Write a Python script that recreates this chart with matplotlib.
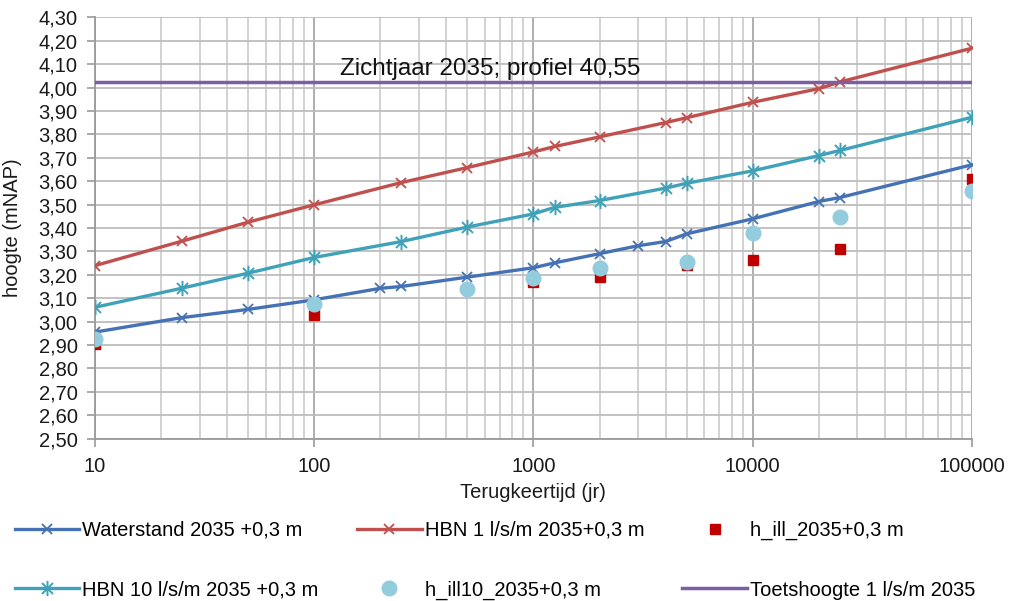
import matplotlib
matplotlib.use("Agg")
import matplotlib.pyplot as plt
from matplotlib.path import Path
from matplotlib.ticker import FixedLocator, FuncFormatter, LogLocator, NullFormatter

plt.rcParams['font.family'] = ['Liberation Sans', 'DejaVu Sans']

# ---- data ----
years_ws = [10, 25, 50, 100, 200, 250, 500, 1000, 1250, 2000, 3000, 4000, 5000, 10000, 20000, 25000, 100000]
waterstand = [2.955, 3.017, 3.052, 3.093, 3.142, 3.150, 3.190, 3.230, 3.251, 3.290, 3.324, 3.342, 3.375, 3.439, 3.513, 3.530, 3.670]

years_hbn = [10, 25, 50, 100, 250, 500, 1000, 1250, 2000, 4000, 5000, 10000, 20000, 25000, 100000]
hbn1 = [3.239, 3.344, 3.425, 3.499, 3.594, 3.658, 3.725, 3.748, 3.789, 3.850, 3.871, 3.937, 3.995, 4.024, 4.168]
hbn10 = [3.061, 3.143, 3.207, 3.274, 3.342, 3.404, 3.460, 3.488, 3.517, 3.570, 3.591, 3.644, 3.709, 3.731, 3.873]

years_ill = [10, 100, 1000, 2000, 5000, 10000, 25000, 100000]
h_ill = [2.906, 3.029, 3.167, 3.189, 3.240, 3.263, 3.312, 3.609]

years_ill10 = [10, 100, 500, 1000, 2000, 5000, 10000, 25000, 100000]
h_ill10 = [2.926, 3.076, 3.140, 3.186, 3.229, 3.254, 3.377, 3.446, 3.556]

years_toets = [10, 100000]
toets = [4.022, 4.022]

y_ticks = [2.5, 2.6, 2.7, 2.8, 2.9, 3.0, 3.1, 3.2, 3.3, 3.4, 3.5, 3.6, 3.7, 3.8, 3.9, 4.0, 4.1, 4.2, 4.3]
x_ticks = [10, 100, 1000, 10000, 100000]

labels = ["Waterstand 2035 +0,3 m", "HBN 1 l/s/m 2035+0,3 m", "h_ill_2035+0,3 m",
          "HBN 10 l/s/m 2035 +0,3 m", "h_ill10_2035+0,3 m", "Toetshoogte 1 l/s/m 2035"]
title = "Zichtjaar 2035; profiel 40,55"

# ---- style ----
c_ws = '#4472b4'
c_hbn1 = '#c0504d'
c_hbn10 = '#3fa2b8'
c_ill = '#c00000'
c_ill10 = '#93cddd'
c_toets = '#7b5ea3'

star = Path([(0, -1), (0, 1), (-0.72, -0.72), (0.72, 0.72), (-0.72, 0.72), (0.72, -0.72)],
            [Path.MOVETO, Path.LINETO, Path.MOVETO, Path.LINETO, Path.MOVETO, Path.LINETO])

W, H = 1012, 601
fig = plt.figure(figsize=(W / 100, H / 100), dpi=100)
ax = fig.add_axes([95 / W, 1 - 438.6 / H, (972 - 95) / W, (438.6 - 17.3) / H])

l_ws, = ax.plot(years_ws, waterstand, color=c_ws, lw=2.4, marker='x', ms=6.5, mew=1.3, zorder=3)
l_h1, = ax.plot(years_hbn, hbn1, color=c_hbn1, lw=2.4, marker='x', ms=6.5, mew=1.3, zorder=3)
l_ill, = ax.plot(years_ill, h_ill, ls='none', marker='s', ms=6.5, color=c_ill, zorder=4)
l_h10, = ax.plot(years_hbn, hbn10, color=c_hbn10, lw=2.4, marker=star, ms=11, mew=1.4, zorder=3)
l_ill10, = ax.plot(years_ill10, h_ill10, ls='none', marker='o', ms=10.5, color=c_ill10, zorder=5)
l_t, = ax.plot(years_toets, toets, color=c_toets, lw=2.5, zorder=3)

ax.set_xscale('log')
ax.set_xlim(10, 100000)
ax.set_ylim(2.5, 4.3)
ax.xaxis.set_major_locator(FixedLocator(x_ticks))
ax.xaxis.set_major_formatter(FuncFormatter(lambda v, p: f"{int(round(v))}"))
ax.xaxis.set_minor_locator(LogLocator(base=10, subs=[2, 3, 4, 5, 6, 7, 8, 9]))
ax.xaxis.set_minor_formatter(NullFormatter())
ax.yaxis.set_major_locator(FixedLocator(y_ticks))
ax.yaxis.set_major_formatter(FuncFormatter(lambda v, p: f"{v:.2f}".replace('.', ',')))

ax.grid(True, which='major', axis='y', color='#bdbdbd', lw=1.3, zorder=0)
ax.grid(True, which='major', axis='x', color='#a8a8a8', lw=1.3, zorder=0)
ax.grid(True, which='minor', axis='x', color='#cfcfcf', lw=1.3, zorder=0)
ax.set_axisbelow(True)

for s in ['top', 'right']:
    ax.spines[s].set_visible(False)
for s in ['left', 'bottom']:
    ax.spines[s].set_color('#9a9a9a')
    ax.spines[s].set_linewidth(1.3)

ax.tick_params(axis='both', which='major', direction='out', length=5.5, width=1.2,
               color='#9a9a9a', labelsize=14.5, labelcolor='#1a1a1a')
ax.tick_params(axis='x', which='major', pad=8)
ax.tick_params(axis='y', which='major', pad=7)
ax.tick_params(axis='x', which='minor', length=0)

fig.text(490 / W, 1 - 69 / H, title, fontsize=17.5, ha='center', va='center', color='#111111')
fig.text(533 / W, 1 - 492 / H, "Terugkeertijd (jr)", fontsize=14.5, ha='center', va='center', color='#1a1a1a')
fig.text(13 / W, 1 - 228 / H, "hoogte (mNAP)", fontsize=14.5, ha='center', va='center',
         rotation=90, color='#1a1a1a')

handles = [l_ws, l_h10, l_h1, l_ill10, l_ill, l_t]
hl = [labels[0], labels[3], labels[1], labels[4], labels[2], labels[5]]
leg = fig.legend(handles, hl, ncol=3, loc='upper left', bbox_to_anchor=(15 / W, 1 - 521 / H),
                 frameon=False, fontsize=14.5, handlelength=3.2, handletextpad=0.15,
                 columnspacing=1.9, labelspacing=2.0, numpoints=1, borderaxespad=0, borderpad=0)

fig.savefig('out.png', dpi=100)
